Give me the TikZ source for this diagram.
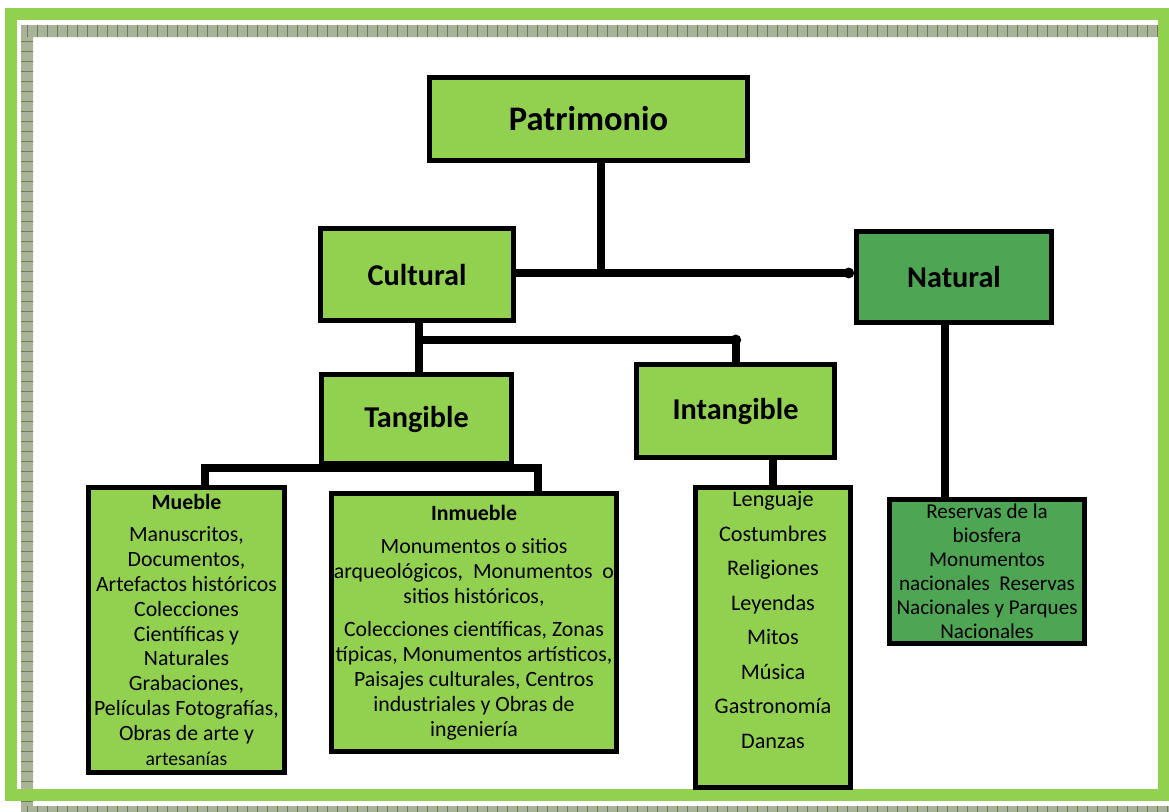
\documentclass[tikz,border=0pt]{standalone}
\usepackage{fontspec}
\setmainfont{Carlito}
\usetikzlibrary{arrows.meta,calc}
\definecolor{leafgreen}{HTML}{92D050}
\definecolor{darkleaf}{HTML}{4EA553}
\definecolor{checkfill}{HTML}{A9B39A}
\definecolor{checkline}{HTML}{6E7C50}
\begin{document}
\begin{tikzpicture}[x=0.025cm,y=-0.025cm,inner sep=0pt,
headbox/.style={draw,rectangle,line width=3.6pt,fill=leafgreen,font=\bfseries\fontsize{21.5}{26}\selectfont},
listbox/.style={draw,rectangle,line width=3.6pt,fill=leafgreen,align=center,inner xsep=1pt,font=\fontsize{15.5}{17.7}\selectfont},
link/.style={line width=5.7pt},
dotlink/.style={link,-{Circle[length=7.5pt]}}]
\useasboundingbox (0,0) rectangle (1169,811);
\begin{scope}
\clip (0,0) rectangle (1169,811);
\fill[checkfill,even odd rule] (21,25) rectangle (1181,818) (33,37) rectangle (1169,806);
\foreach \x in {27,37,...,1167} {
  \draw[checkline,line width=0.5pt] (\x,25) -- (\x,37);
  \draw[checkline,line width=0.5pt] (\x,806) -- (\x,818);
}
\foreach \y in {41,51,...,801}
  \draw[checkline,line width=0.5pt] (21,\y) -- (33,\y);
\end{scope}
\draw[leafgreen,line width=8.5pt] (11,14) rectangle (1163.5,795);
\draw (588.5,119) node[headbox,minimum width=7.95cm,minimum height=2.075cm,font=\bfseries\fontsize{24.5}{29}\selectfont] (patr) {Patrimonio};
\draw (417,274.5) node[headbox,minimum width=4.825cm,minimum height=2.3cm] (cult) {Cultural};
\draw (954,277) node[headbox,fill=darkleaf,minimum width=4.875cm,minimum height=2.275cm] (nat) {Natural};
\draw (416.5,419) node[headbox,minimum width=4.75cm,minimum height=2.225cm] (tang) {Tangible};
\draw (735.5,411) node[headbox,minimum width=4.95cm,minimum height=2.325cm] (intg) {Intangible};
\draw (186.5,630) node[listbox,minimum width=4.9cm,minimum height=7.125cm] (mueb) {\textbf{Mueble}\\[5pt] Manuscritos,\\ Documentos,\\ Artefactos históricos\\ Colecciones\\ Científicas y\\ Naturales\\ Grabaciones,\\ Películas Fotografías,\\ Obras de arte y\\ {\fontsize{14}{17}\selectfont artesanías}};
\draw (474,622.5) node[listbox,minimum width=7.125cm,minimum height=6.45cm] (inmu) {\textbf{Inmueble}\\[6pt] Monumentos o sitios\\ arqueológicos,\ \ Monumentos\ \ o\\ sitios históricos,\\[6pt] Colecciones científicas, Zonas\\ típicas, Monumentos artísticos,\\ Paisajes culturales, Centros\\ industriales y Obras de\\ ingeniería};
\draw (773,637.5) node[listbox,minimum width=3.875cm,minimum height=7.5cm,text depth=25pt,font=\fontsize{15.8}{24.5}\selectfont] (ilist) {Lenguaje\\ Costumbres\\ Religiones\\ Leyendas\\ Mitos\\ Música\\ Gastronomía\\ Danzas};
\draw (987,571.5) node[listbox,fill=darkleaf,minimum width=4.875cm,minimum height=3.6cm,font=\fontsize{15}{17}\selectfont] (nlist) {Reservas de la\\ biosfera\\ Monumentos\\ nacionales\ \ Reservas\\ Nacionales y Parques\\ Nacionales};
\coordinate (j1) at (601,273);
\coordinate (j2) at (419,340);
\coordinate (j2r) at (741,340);
\coordinate (j3) at (205,468);
\coordinate (j4) at (538,468);
\coordinate (nx) at (945,0);
\draw[link] (patr.south -| j1) -- (j1);
\draw[dotlink] (cult.east |- j1) -- (nat.west |- j1);
\draw[link] (cult.south -| j2) -- (tang.north -| j2);
\draw[dotlink] (j2) -- (j2r);
\draw[link] (j2 -| intg.north) -- (intg.north);
\draw[link] (j3 |- mueb.north) -- (j3) -- (j4) -- (j4 |- inmu.north);
\draw[link] (intg.south -| ilist.north) -- (ilist.north);
\draw[link] (nat.south -| nx) -- (nlist.north -| nx);
\end{tikzpicture}
\end{document}
